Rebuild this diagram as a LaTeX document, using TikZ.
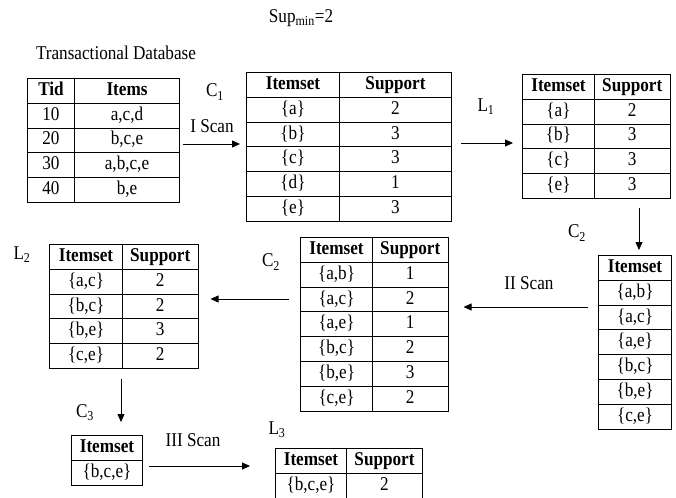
\documentclass[tikz,border=0pt]{standalone}
\usepackage{fontspec}
\setmainfont{Liberation Serif}[FakeStretch = 0.88]
\usepackage{tikz}
\usetikzlibrary{matrix, arrows.meta}

\begin{document}
\fontsize{19.5}{22}\selectfont
\begin{tikzpicture}[x = 1pt, y = -1pt, line width = 1pt,
		tbl/.style = {matrix of nodes, anchor = north west, inner sep = 0pt, outer sep = 0pt,
			column sep = -\pgflinewidth, row sep = -\pgflinewidth,
			nodes = {draw, inner sep = 0pt, minimum height = 24.8pt, text height = 13.5pt, text depth = 4.5pt, anchor = center},
			row 1/.style = {nodes = {font = \bfseries}}},
		arr/.style = {-{Triangle[length = 8pt, width = 7pt]}, line width = 0.8pt}]
	\def\wItem{72pt};
	\def\wSup{75.5pt};

	\useasboundingbox (0,0) rectangle (676,497);

	% labels
	\node (sup) at (301,18) {Sup\textsubscript{min}=2};
	\node (dbname) at (116,53) {Transactional Database};
	\node (c1name) at (215,92) {C\textsubscript{1}};
	\node (scan1) at (212,126) {I Scan};
	\node (l1name) at (486,107) {L\textsubscript{1}};
	\node (c2rname) at (577,233) {C\textsubscript{2}};
	\node (scan2) at (529,283) {II Scan};
	\node (c2mname) at (271,262) {C\textsubscript{2}};
	\node (l2name) at (22,255) {L\textsubscript{2}};
	\node (c3name) at (85,413) {C\textsubscript{3}};
	\node (scan3) at (193,440) {III Scan};
	\node (l3name) at (277,430) {L\textsubscript{3}};

	% tables
	\matrix (db) [tbl, column 1/.style = {nodes = {minimum width = 47pt}},
		column 2/.style = {nodes = {minimum width = 105pt}}] at (27,78)
	{
		Tid & Items \\
		10 & a,c,d \\
		20 & b,c,e \\
		30 & a,b,c,e \\
		40 & b,e \\
	};

	\matrix (c1) [tbl, column 1/.style = {nodes = {minimum width = 93pt}},
		column 2/.style = {nodes = {minimum width = 112pt}}] at (246,72)
	{
		Itemset & Support \\
		\{a\} & 2 \\
		\{b\} & 3 \\
		\{c\} & 3 \\
		\{d\} & 1 \\
		\{e\} & 3 \\
	};

	\matrix (l1) [tbl, column 1/.style = {nodes = {minimum width = \wItem}},
		column 2/.style = {nodes = {minimum width = \wSup}}] at (522,74)
	{
		Itemset & Support \\
		\{a\} & 2 \\
		\{b\} & 3 \\
		\{c\} & 3 \\
		\{e\} & 3 \\
	};

	\matrix (c2r) [tbl, column 1/.style = {nodes = {minimum width = 73pt}}] at (598,255)
	{
		Itemset \\
		\{a,b\} \\
		\{a,c\} \\
		\{a,e\} \\
		\{b,c\} \\
		\{b,e\} \\
		\{c,e\} \\
	};

	\matrix (c2m) [tbl, column 1/.style = {nodes = {minimum width = \wItem}},
		column 2/.style = {nodes = {minimum width = \wSup}}] at (300,237)
	{
		Itemset & Support \\
		\{a,b\} & 1 \\
		\{a,c\} & 2 \\
		\{a,e\} & 1 \\
		\{b,c\} & 2 \\
		\{b,e\} & 3 \\
		\{c,e\} & 2 \\
	};

	\matrix (l2) [tbl, column 1/.style = {nodes = {minimum width = 73pt}},
		column 2/.style = {nodes = {minimum width = \wSup}}] at (49,244)
	{
		Itemset & Support \\
		\{a,c\} & 2 \\
		\{b,c\} & 2 \\
		\{b,e\} & 3 \\
		\{c,e\} & 2 \\
	};

	\matrix (c3) [tbl, column 1/.style = {nodes = {minimum width = 71pt}}] at (71,435)
	{
		Itemset \\
		\{b,c,e\} \\
	};

	\matrix (l3) [tbl, column 1/.style = {nodes = {minimum width = 71pt}},
		column 2/.style = {nodes = {minimum width = 76pt}}] at (275,448)
	{
		Itemset & Support \\
		\{b,c,e\} & 2 \\
	};

	% arrows
	\draw[arr, shorten <= 3pt, shorten >= 6pt] (db.east |- 0,144) -- (c1.west |- 0,144);
	\draw[arr, shorten <= 9pt, shorten >= 9pt] (c1.east |- 0,143) -- (l1.west |- 0,143);
	\draw[arr, shorten <= 9pt, shorten >= 5pt] (l1.south -| 639,0) -- (c2r.north -| 639,0);
	\draw[arr, shorten <= 10pt, shorten >= 15pt] (c2r.west |- 0,307) -- (c2m.east |- 0,307);
	\draw[arr, shorten <= 11pt, shorten >= 12pt] (c2m.west |- 0,299) -- (l2.east |- 0,299);
	\draw[arr, shorten <= 10pt, shorten >= 13pt] (l2.south -| 121,0) -- (c3.north -| 121,0);
	\draw[arr, shorten <= 6pt, shorten >= 25pt] (c3.east |- 0,466) -- (l3.west |- 0,466);
\end{tikzpicture}
\end{document}
